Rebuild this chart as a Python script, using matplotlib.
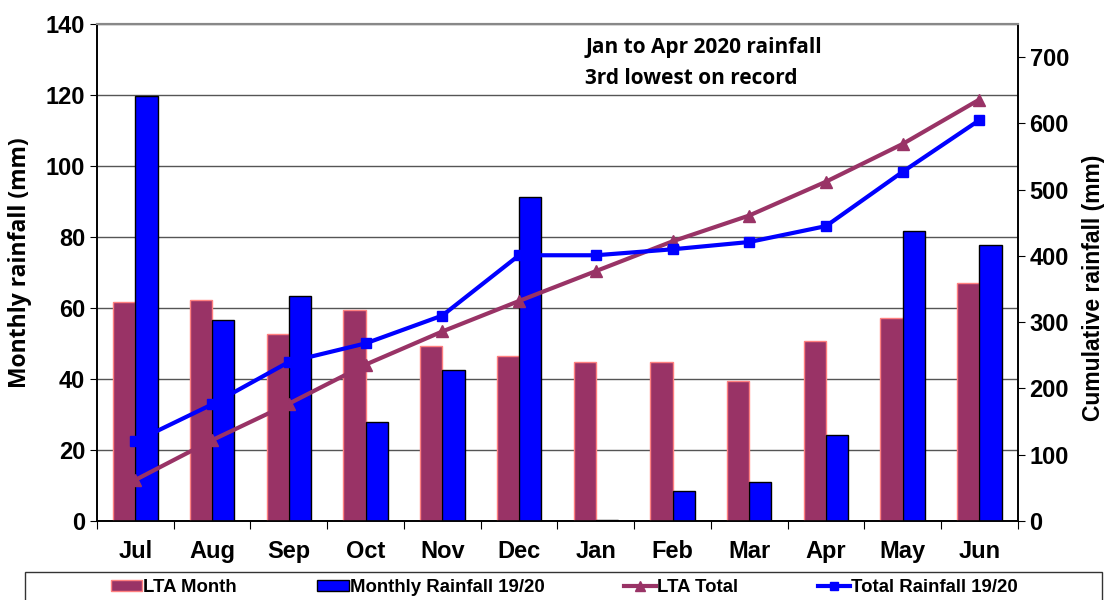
import matplotlib
matplotlib.use("Agg")
import matplotlib.pyplot as plt
import matplotlib.patches as mpatches
from matplotlib.lines import Line2D
import numpy as np

# ── data ──────────────────────────────────────────────────────────────────────
months = ["Jul", "Aug", "Sep", "Oct", "Nov", "Dec",
          "Jan", "Feb", "Mar", "Apr", "May", "Jun"]
lta_month = [61.7, 62.3, 52.7, 59.4, 49.3, 46.5, 44.8, 44.8, 39.4, 50.7, 57.2, 67.0]
monthly_1920 = [119.7, 56.6, 63.4, 27.9, 42.5, 91.3, 0.3, 8.5, 11.0, 24.2, 81.7, 77.7]
lta_total = [62, 122, 177, 236, 286, 332, 377, 422, 461, 512, 569, 636]
total_1920 = [120, 176, 240, 268, 310, 401, 401, 410, 421, 445, 527, 605]

PURPLE = "#993366"
BLUE = "#0000FF"

plt.rcParams["font.family"] = ["Liberation Sans", "DejaVu Sans"]

fig = plt.figure(figsize=(11.04, 6.0), dpi=100)
ax = fig.add_axes([0.0879, 0.1317, 0.834, 0.8283])
ax2 = ax.twinx()

x = np.arange(len(months))
w = 0.29
ax.bar(x - w / 2, lta_month, width=w, color=PURPLE, edgecolor="#FF8080",
       linewidth=1.0, zorder=3)
ax.bar(x + w / 2, monthly_1920, width=w, color=BLUE, edgecolor="black",
       linewidth=1.0, zorder=3)

ax.set_xlim(-0.5, len(months) - 0.5)
ax.set_ylim(0, 140)
ax.set_yticks(range(0, 141, 20))
ax.grid(axis="y", color="#555555", linewidth=1.0, zorder=0)
ax.set_axisbelow(True)

# category boundary ticks on x
ax.set_xticks(np.arange(-0.5, len(months), 1.0))
ax.set_xticklabels([])
ax.set_xticks(x, minor=True)
ax.set_xticklabels(months, minor=True, fontsize=17, fontweight="bold")
ax.tick_params(axis="x", which="minor", length=0, pad=14)
ax.tick_params(axis="x", which="major", length=6, direction="out", color="black")
ax.tick_params(axis="y", labelsize=17, length=5, direction="out")
for lab in ax.get_yticklabels():
    lab.set_fontweight("bold")
ax.set_ylabel("Monthly rainfall (mm)", fontsize=16.5, fontweight="bold",
              family=["Open Sans", "DejaVu Sans"])
ax.yaxis.set_label_coords(-0.071, 0.52)

ax2.plot(x, lta_total, color=PURPLE, linewidth=3, marker="^", markersize=8, zorder=4)
ax2.plot(x, total_1920, color=BLUE, linewidth=3, marker="s", markersize=7, zorder=5)
ax2.set_ylim(0, 750)
ax2.set_yticks(range(0, 701, 100))
ax2.tick_params(axis="y", labelsize=17, length=5, direction="out")
for lab in ax2.get_yticklabels():
    lab.set_fontweight("bold")
ax2.set_ylabel("Cumulative rainfall (mm)", fontsize=16.5, fontweight="bold")
ax2.yaxis.set_label_coords(1.070, 0.47)

for a in (ax, ax2):
    a.spines["top"].set_color("#888888")
    a.spines["top"].set_linewidth(1.5)
    a.spines["left"].set_linewidth(1.2)
    a.spines["right"].set_linewidth(1.2)
    a.spines["bottom"].set_linewidth(1.2)

fig.text(0.530, 0.921, "Jan to Apr 2020 rainfall", fontsize=15, fontweight="bold",
         family=["Open Sans", "DejaVu Sans"], ha="left", va="center")
fig.text(0.530, 0.870, "3rd lowest on record", fontsize=15, fontweight="bold",
         family=["Open Sans", "DejaVu Sans"], ha="left", va="center")

# legend frame drawn separately (it runs off the bottom edge)
fig.patches.append(mpatches.Rectangle((0.0226, -0.02), 0.9756, 0.0667,
                                      transform=fig.transFigure, fill=False,
                                      edgecolor="#333333", linewidth=1.0))

handles = [
    mpatches.Patch(facecolor=PURPLE, edgecolor="#FF8080", label="LTA Month"),
    mpatches.Patch(facecolor=BLUE, edgecolor="black", label="Monthly Rainfall 19/20"),
    Line2D([], [], color=PURPLE, linewidth=3, marker="^", markersize=7, label="LTA Total"),
    Line2D([], [], color=BLUE, linewidth=3, marker="s", markersize=6, label="Total Rainfall 19/20"),
]
leg = fig.legend(handles=handles, loc="center", ncol=4,
                 bbox_to_anchor=(0.511, 0.021), frameon=False,
                 handlelength=1.7, handleheight=0.55, handletextpad=0.05,
                 columnspacing=4.3, borderpad=0.0,
                 prop={"family": ["Liberation Sans"], "weight": "bold",
                       "size": 13.4})

fig.savefig("out.png", dpi=100)
